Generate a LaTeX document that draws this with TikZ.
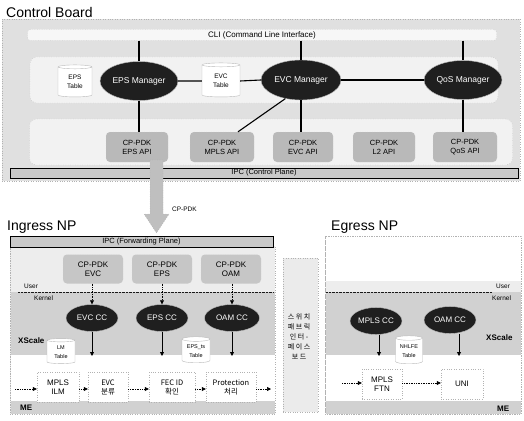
\documentclass[tikz,border=0pt]{standalone}
\usepackage{fontspec}
\setmainfont{Liberation Sans}
\newfontfamily\kr{Noto Sans CJK KR}
\usetikzlibrary{shapes.geometric,arrows.meta,calc}
\tikzset{
  fs/.style={font=\fontsize{#1}{9}\selectfont},
  region/.style={draw=gray!60, dotted, inner sep=0},
  mgr/.style={ellipse, fill=black!88, draw=gray!50, text=white, inner sep=0, fs=8.5},
  cc/.style={ellipse, fill=black!88, draw=gray!50, text=white, inner sep=0, fs=8,
             minimum width=52, minimum height=27},
  api/.style={rounded corners=4pt, fill=gray!55, draw=gray!35, dotted, align=center,
              inner sep=0, fs=7.5, minimum width=62, minimum height=30},
  pdk/.style={rounded corners=4pt, fill=gray!45, draw=gray!30, dotted, align=center,
              inner sep=0, fs=8, minimum width=60, minimum height=29},
  tbl/.style={cylinder, shape border rotate=90, aspect=0.25, draw=gray!55, line width=0.4pt,
              fill=white, align=center, inner sep=0, fs=6.5},
  ipc/.style={draw=black, fill=gray!42, inner sep=0, fs=7.5},
  func/.style={draw=gray!60, dotted, fill=white, align=center, inner sep=0,
               minimum height=30, fs=8},
  link/.style={line width=1.1pt, black},
  pdkarr/.style={densely dotted, line width=0.7pt, -{Triangle[length=4pt,width=4pt]}},
  ccarr/.style={line width=0.8pt, -{Triangle[length=4pt,width=4pt]}},
  flow/.style={densely dotted, line width=0.7pt, -{Triangle[length=4pt,width=4pt]}},
  lbl/.style={inner sep=0, fs=7},
  bold/.style={inner sep=0, font=\bfseries\fontsize{8}{9}\selectfont}
}
\begin{document}
\begin{tikzpicture}[x=1pt,y=-1pt]
\useasboundingbox (0,0) rectangle (524,420);
\fill[white] (0,0) rectangle (524,420);

% ---------------- Control Board ----------------
\node[anchor=west, inner sep=0, fs=14] (cbt) at (6,12) {Control Board};
\node[region, fill=gray!24, minimum width=518, minimum height=162] (cb) at (261,100) {};
\node[region, rounded corners=3pt, fill=gray!6, minimum width=469, minimum height=11, fs=8]
  (cli) at (262,35) {CLI (Command Line Interface)};
\node[region, rounded corners=7pt, fill=gray!10, minimum width=468, minimum height=46]
  (mgrbox) at (264,80) {};
\node[region, rounded corners=7pt, fill=gray!10, minimum width=483, minimum height=46]
  (apibox) at (271,142) {};

\node[tbl, minimum width=34, minimum height=32] (epst) at (75,82) {EPS\\Table};
\node[tbl, minimum width=38, minimum height=34] (evct) at (221,81) {EVC\\Table};
\node[mgr, minimum width=78, minimum height=39] (epsm) at (139,81) {EPS Manager};
\node[mgr, minimum width=80, minimum height=40] (evcm) at (301,80) {EVC Manager};
\node[mgr, minimum width=78, minimum height=39] (qosm) at (463,80) {QoS Manager};

\node[api] (epsapi) at (137,147) {CP-PDK\\EPS API};
\node[api, minimum width=64] (mplsapi) at (222,147) {CP-PDK\\MPLS API};
\node[api, minimum width=60] (evcapi) at (303,147) {CP-PDK\\EVC API};
\node[api, minimum width=62] (l2api) at (384,147) {CP-PDK\\L2 API};
\node[api, minimum width=64] (qosapi) at (465,147) {CP-PDK\\QoS API};

\draw[link] (epsm.north |- cli.south) -- (epsm.north);
\draw[link] (evcm.north |- cli.south) -- (evcm.north);
\draw[link] (qosm.north |- cli.south) -- (qosm.north);
\draw[link] (epsm.east) -- (evct.west);
\draw[link] (evct.east) -- (evcm.west);
\draw[link] (evcm.east) -- (qosm.west);
\draw[link] (epsm.south) -- (epsm.south |- epsapi.north);
\draw[link] (evcm.230) -- ($(mplsapi.north)+(16,0)$);
\draw[link] (evcm.south) -- (evcm.south |- evcapi.north);
\draw[link] (qosm.south) -- (qosm.south |- qosapi.north);

\node[ipc, minimum width=508, minimum height=10] (ipcc) at (264,173) {IPC (Control Plane)};

% big arrow
\coordinate (ba1) at (150,160);
\coordinate (ba2) at (163,160);
\coordinate (bat) at (156.5,233);
\draw[fill=gray!50, draw=gray!75, dotted]
  (ba1) -- (ba2) -- (163,214) -- (169,214) -- (bat) -- (144,214) -- (150,214) -- cycle;
\node[lbl, fs=6.5, anchor=west] (cppdk) at (172,209) {CP-PDK};

% ---------------- Ingress NP ----------------
\node[anchor=west, inner sep=0, fs=14] (ingt) at (7,227) {Ingress NP};
\node[region, fill=gray!14, minimum width=265, minimum height=168] (ing) at (142.5,330) {};
\fill[gray!36] (10.5,292) rectangle (274.5,355);
\fill[white] (10.5,355) rectangle (274.5,401);
\fill[gray!36] (10.5,401) rectangle (274.5,413.5);
\draw[gray!60, dotted] (10,246) rectangle (275,414);
\node[ipc, minimum width=263, minimum height=11] (ipcf) at (141.5,241.5) {IPC (Forwarding Plane)};

\node[pdk] (pevc) at (93,269) {CP-PDK\\EVC};
\node[pdk] (peps) at (162,269) {CP-PDK\\EPS};
\node[pdk] (poam) at (231,269) {CP-PDK\\OAM};

\draw[densely dotted, gray!20!black] (18,292) -- (274,292);
\node[lbl, fs=6.5, anchor=west] (user1) at (24,286) {User};
\node[lbl, fs=6.5, anchor=west] (kern1) at (34,298) {Kernel};

\node[cc] (evccc) at (92,318) {EVC CC};
\node[cc] (epscc) at (162,318) {EPS CC};
\node[cc, minimum width=55] (oamcc) at (232,318) {OAM CC};

\draw[pdkarr] (pevc.south -| evccc.north) -- (evccc.north);
\draw[pdkarr] (peps.south) -- (epscc.north);
\draw[pdkarr] (poam.south -| oamcc.north) -- (oamcc.north);

\node[bold, anchor=west] (xs1) at (18,341) {XScale};
\node[tbl, minimum width=28, minimum height=25, fs=5.5] (lmt) at (61,352) {LM\\Table};
\node[tbl, minimum width=28, minimum height=26, fs=5.5] (epsts) at (196,351) {EPS\_ts\\Table};

\node[func, minimum width=42] (ilm) at (58,387) {MPLS\\ILM};
\node[func, minimum width=40, font=\kr\fontsize{7.5}{9}\selectfont] (evcf) at (108,387) {EVC\\분류};
\node[func, minimum width=46, font=\kr\fontsize{7.5}{9}\selectfont] (fec) at (172,387) {FEC ID\\확인};
\node[func, minimum width=50, font=\kr\fontsize{7.5}{9}\selectfont] (prot) at (231,387) {Protection\\처리};

\draw[ccarr] (evccc.south) -- (evccc.south |- 0,356);
\draw[ccarr] (epscc.south) -- (epscc.south |- 0,356);
\draw[ccarr] (oamcc.south) -- (oamcc.south |- 0,356);

\coordinate (fin) at (15,389);
\coordinate (fout) at (271,389);
\draw[flow] (fin) -- (ilm.west |- fin);
\draw[flow] (ilm.east |- fin) -- (evcf.west |- fin);
\draw[flow] (evcf.east |- fin) -- (fec.west |- fin);
\draw[flow] (fec.east |- fin) -- (prot.west |- fin);
\draw[flow] (prot.east |- fin) -- (fout);

\node[bold, anchor=west] (me1) at (20,408) {ME};

% Korean vertical board
\node[region, fill=gray!16, minimum width=35, minimum height=154] (swb) at (300.5,335) {};
\node[inner sep=0, align=center, font=\kr\fontsize{7}{10}\selectfont] (swt) at (299,337)
  {스 위 치\\패 브 릭\\인 터 -\\페 이 스\\보 드};

% ---------------- Egress NP ----------------
\node[anchor=west, inner sep=0, fs=14] (egt) at (331,227) {Egress NP};
\node[region, fill=white, minimum width=196, minimum height=178] (eg) at (423,325) {};
\fill[gray!14] (325.5,281) rectangle (520.5,292);
\fill[gray!36] (325.5,292) rectangle (520.5,355);
\fill[white] (325.5,355) rectangle (520.5,401);
\fill[gray!36] (325.5,401) rectangle (520.5,413.5);
\draw[gray!60, dotted] (325,236) rectangle (521,414);
\draw[densely dotted, gray!20!black] (326,292) -- (492,292);
\node[lbl, fs=6.5, anchor=west] (user2) at (496,286) {User};
\node[lbl, fs=6.5, anchor=west] (kern2) at (492,298) {Kernel};

\node[cc] (mplscc) at (376,321) {MPLS CC};
\node[cc] (oamcc2) at (450,320) {OAM CC};
\node[bold, anchor=west] (xs2) at (486,338) {XScale};
\node[tbl, minimum width=27, minimum height=28, fs=5.5] (nhlfe) at (409,351) {NHLFE\\Table};

\node[func, minimum width=40] (ftn) at (382,384) {MPLS\\FTN};
\node[func, minimum width=42] (uni) at (462,384) {UNI};

\draw[ccarr] (mplscc.south -| 379,0) -- (379,356);
\draw[ccarr] (oamcc2.south -| 459,0) -- (459,356);

\coordinate (ein) at (342,383);
\draw[flow] (ein) -- (ftn.west |- ein);
\draw[flow] (ftn.east |- ein) -- (uni.west |- ein);

\node[bold, anchor=west] (me2) at (497,409) {ME};
\end{tikzpicture}
\end{document}
